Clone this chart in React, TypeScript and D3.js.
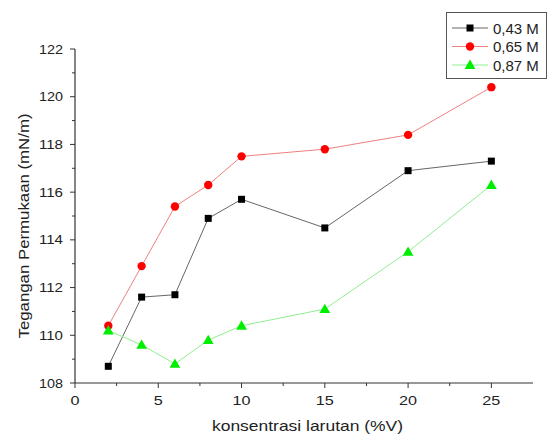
import React from "react";
import * as d3 from "d3";

const xValues = [2, 4, 6, 8, 10, 15, 20, 25];
const series043 = [108.7, 111.6, 111.7, 114.9, 115.7, 114.5, 116.9, 117.3];
const series065 = [110.4, 112.9, 115.4, 116.3, 117.5, 117.8, 118.4, 120.4];
const series087 = [110.2, 109.6, 108.8, 109.8, 110.4, 111.1, 113.5, 116.3];
const seriesNames = ["0,43 M", "0,65 M", "0,87 M"];
const xTicks = [0, 5, 10, 15, 20, 25];
const yTicks = [108, 110, 112, 114, 116, 118, 120, 122];
const xLabel = "konsentrasi larutan (%V)";
const yLabel = "Tegangan Permukaan (mN/m)";

const W = 551;
const H = 435;
const left = 75;
const right = 533;
const top = 49;
const bottom = 383;

export default function App() {
  const x = d3.scaleLinear().domain([0, 27.5]).range([left, right]);
  const y = d3.scaleLinear().domain([108, 122]).range([bottom, top]);
  const line = d3
    .line<[number, number]>()
    .x((d) => x(d[0]))
    .y((d) => y(d[1]));

  const series = [
    { name: seriesNames[0], values: series043, line: "#666", fill: "#000", shape: "square" },
    { name: seriesNames[1], values: series065, line: "#f08080", fill: "#ff0000", shape: "circle" },
    { name: seriesNames[2], values: series087, line: "#90ee90", fill: "#00ee00", shape: "triangle" },
  ];

  const marker = (shape: string, cx: number, cy: number, fill: string, key: any) => {
    if (shape === "square")
      return <rect key={key} x={cx - 3.5} y={cy - 3.5} width={7} height={7} fill={fill} />;
    if (shape === "circle") return <circle key={key} cx={cx} cy={cy} r={4.2} fill={fill} />;
    const p = d3.symbol(d3.symbolTriangle, 50)()!;
    return <path key={key} d={p} transform={`translate(${cx},${cy + 0.8})`} fill={fill} />;
  };

  const xMinor = d3.range(2.5, 27.5, 5);
  const yMinor = d3.range(109, 122, 2);
  const font = "'Liberation Sans', Arial, sans-serif";

  return (
    <svg width={W} height={H} style={{ position: "absolute", left: 0, top: 0 }} fontFamily={font}>
      <rect width={W} height={H} fill="#fff" />
      {series.map((s, i) => (
        <g key={i}>
          <path
            d={line(xValues.map((v, j) => [v, s.values[j]] as [number, number]))!}
            fill="none"
            stroke={s.line}
            strokeWidth={1}
          />
          {xValues.map((v, j) => marker(s.shape, x(v), y(s.values[j]), s.fill, j))}
        </g>
      ))}
      {/* axes */}
      <line x1={left} x2={right} y1={bottom} y2={bottom} stroke="#333" strokeWidth={1.2} />
      <line x1={left} x2={left} y1={top} y2={bottom} stroke="#333" strokeWidth={1.2} />
      {xTicks.map((t) => (
        <g key={t}>
          <line x1={x(t)} x2={x(t)} y1={bottom} y2={bottom + 5} stroke="#333" />
          <text
            x={x(t)}
            y={bottom + 22}
            fontSize={13}
            textAnchor="middle"
            fill="#222"
            textLength={String(t).length * 9}
            lengthAdjust="spacingAndGlyphs"
          >
            {t}
          </text>
        </g>
      ))}
      {xMinor.map((t) => (
        <line key={t} x1={x(t)} x2={x(t)} y1={bottom} y2={bottom + 3} stroke="#333" />
      ))}
      {yTicks.map((t) => (
        <g key={t}>
          <line x1={left - 5} x2={left} y1={y(t)} y2={y(t)} stroke="#333" />
          <text
            x={left - 12}
            y={y(t) + 4.5}
            fontSize={13}
            textAnchor="end"
            fill="#222"
            textLength={String(t).length * 8}
            lengthAdjust="spacingAndGlyphs"
          >
            {t}
          </text>
        </g>
      ))}
      {yMinor.map((t) => (
        <line key={t} x1={left - 3} x2={left} y1={y(t)} y2={y(t)} stroke="#333" />
      ))}
      <text
        x={307.5}
        y={431}
        fontSize={15}
        textAnchor="middle"
        fill="#222"
        textLength={191}
        lengthAdjust="spacingAndGlyphs"
      >
        {xLabel}
      </text>
      <text
        transform={`translate(29,226) rotate(-90)`}
        fontSize={15}
        textAnchor="middle"
        fill="#222"
        textLength={225}
        lengthAdjust="spacingAndGlyphs"
      >
        {yLabel}
      </text>
      {/* legend */}
      <rect x={446.5} y={12.5} width={100} height={66} fill="#fff" stroke="#555" strokeWidth={1} />
      {series.map((s, i) => {
        const ly = 28 + i * 18.5;
        return (
          <g key={i}>
            <line x1={452} x2={488} y1={ly} y2={ly} stroke={s.line} />
            {marker(s.shape, 470, ly, s.fill, "m")}
            <text x={493} y={ly + 5.5} fontSize={15} fill="#222">
              {s.name}
            </text>
          </g>
        );
      })}
    </svg>
  );
}
